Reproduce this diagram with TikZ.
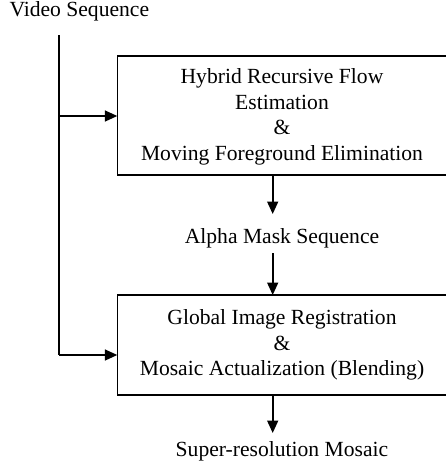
\documentclass[tikz,border=0pt]{standalone}
\usepackage{fontspec}
\setmainfont{Liberation Serif}
\usetikzlibrary{arrows.meta}
\begin{document}
\begin{tikzpicture}[x=1pt,y=-1pt,
  every node/.style={font=\fontsize{21.6}{25.6}\selectfont, inner sep=0pt},
  procbox/.style={draw, line width=1.6pt, minimum width=330pt},
  conn/.style={line width=1.6pt},
  arr/.style={conn, -{Triangle[length=12.5pt,width=11pt]}}]
\useasboundingbox (0,0) rectangle (445,466);
\node[anchor=base west] (vs) at (9.3,16.7) {Video Sequence};
\coordinate (top) at (59,35);
\node[procbox, minimum height=119.3pt] (b1) at (282.3,115.35) {};
\node[align=center] (t1) at (282,117) {Hybrid Recursive Flow\\Estimation\\\&\\Moving Foreground Elimination};
\node[anchor=base] (am) at (282,243.3) {Alpha Mask Sequence};
\node[procbox, minimum height=100pt] (b2) at (282.3,345) {};
\node[align=center] (t2) at (282,345.1) {Global Image Registration\\\&\\Mosaic Actualization (Blending)};
\node[anchor=base] (sr) at (282,456.7) {Super-resolution Mosaic};
\coordinate (j1) at (59,116);
\coordinate (j2) at (59,355);
\coordinate (b1in) at (117.3,116);
\coordinate (b2in) at (117.3,355);
\coordinate (b1out) at (272.7,175);
\coordinate (amin) at (272.7,214);
\coordinate (amout) at (272.7,253);
\coordinate (b2top) at (272.7,295);
\coordinate (b2out) at (272.7,395);
\coordinate (srin) at (272.7,433);
\draw[conn] (top) -- (j2);
\draw[arr] (j1) -- (b1in);
\draw[arr] (j2) -- (b2in);
\draw[arr] (b1out) -- (amin);
\draw[arr] (amout) -- (b2top);
\draw[arr] (b2out) -- (srin);
\end{tikzpicture}
\end{document}
